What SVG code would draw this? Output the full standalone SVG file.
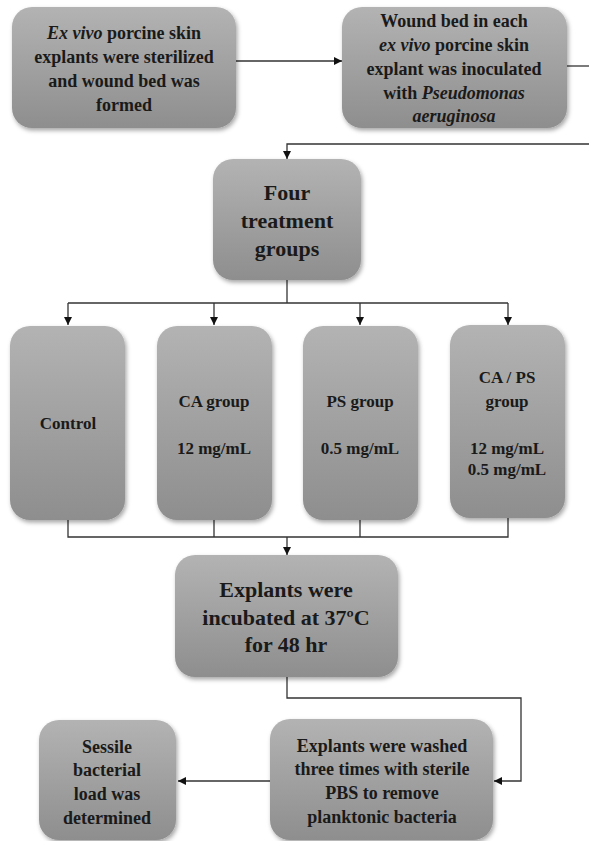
<svg xmlns="http://www.w3.org/2000/svg" width="589" height="841" viewBox="0 0 589 841">
<defs>
<linearGradient id="g" x1="0" y1="0" x2="0" y2="1">
<stop offset="0" stop-color="#b3b3b3"/>
<stop offset="1" stop-color="#8e8e8e"/>
</linearGradient>
<filter id="sh" x="-10%" y="-10%" width="125%" height="125%">
<feDropShadow dx="1.5" dy="2.5" stdDeviation="2" flood-color="#000" flood-opacity="0.35"/>
</filter>
<marker id="ah" viewBox="0 0 10 10" refX="10" refY="5" markerWidth="8" markerHeight="8" markerUnits="userSpaceOnUse" orient="auto">
<path d="M0,0 L10,5 L0,10 Z" fill="#111"/>
</marker>
</defs>
<style>
.box{fill:url(#g);filter:url(#sh);}
.t{font-family:"Liberation Serif","Times New Roman",serif;font-weight:bold;fill:#1a1a1a;text-anchor:middle;}
.s18{font-size:18px;}
.s17{font-size:17px;}
.s22{font-size:22px;}
.i{font-style:italic;}
.c{fill:none;stroke:#333;stroke-width:1.3;}
.a{marker-end:url(#ah);}
</style>
<rect width="589" height="841" fill="#fff"/>
<g id="connectors">
<path class="c a" d="M236,61 H342"/>
<path class="c" d="M567,66 H589"/>
<path class="c a" d="M589,144 H287 V159"/>
<path class="c" d="M287,280 V303"/>
<path class="c" d="M68,303 H508"/>
<path class="c a" d="M68,303 V325"/>
<path class="c a" d="M214,303 V325"/>
<path class="c a" d="M360,303 V325"/>
<path class="c a" d="M508,303 V325"/>
<path class="c" d="M68,520 V537 H508 V518"/>
<path class="c" d="M214,520 V537"/>
<path class="c" d="M360,520 V537"/>
<path class="c a" d="M287,537 V555"/>
<path class="c a" d="M287,677 V698 H521 V781 H494"/>
<path class="c a" d="M270,781 H178"/>
</g>
<g id="n1">
<rect class="box" x="12" y="7" width="224" height="121" rx="20"/>
<text class="t s18" x="124" y="39"><tspan class="i">Ex vivo</tspan> porcine skin</text>
<text class="t s18" x="124" y="63">explants were sterilized</text>
<text class="t s18" x="124" y="87">and wound bed was</text>
<text class="t s18" x="124" y="111">formed</text>
</g>
<g id="n2">
<rect class="box" x="342" y="7" width="225" height="121" rx="20"/>
<text class="t s18" x="454" y="27">Wound bed in each</text>
<text class="t s18" x="454" y="51"><tspan class="i">ex vivo</tspan> porcine skin</text>
<text class="t s18" x="454" y="75">explant was inoculated</text>
<text class="t s18" x="454" y="99">with <tspan class="i">Pseudomonas</tspan></text>
<text class="t s18 i" x="454" y="122">aeruginosa</text>
</g>
<g id="n3">
<rect class="box" x="213" y="159" width="148" height="121" rx="20"/>
<text class="t s22" x="287" y="200">Four</text>
<text class="t s22" x="287" y="228">treatment</text>
<text class="t s22" x="287" y="256">groups</text>
</g>
<g id="n4">
<rect class="box" x="10" y="326" width="115" height="194" rx="20"/>
<text class="t s17" x="68" y="429">Control</text>
</g>
<g id="n5">
<rect class="box" x="157" y="326" width="115" height="194" rx="20"/>
<text class="t s17" x="214" y="407">CA group</text>
<text class="t s17" x="214" y="454">12 mg/mL</text>
</g>
<g id="n6">
<rect class="box" x="303" y="326" width="115" height="194" rx="20"/>
<text class="t s17" x="360" y="407">PS group</text>
<text class="t s17" x="360" y="454">0.5 mg/mL</text>
</g>
<g id="n7">
<rect class="box" x="450" y="325" width="115" height="193" rx="20"/>
<text class="t s17" x="507" y="383">CA / PS</text>
<text class="t s17" x="507" y="407">group</text>
<text class="t s17" x="507" y="454">12 mg/mL</text>
<text class="t s17" x="507" y="475">0.5 mg/mL</text>
</g>
<g id="n8">
<rect class="box" x="175" y="555" width="223" height="122" rx="20"/>
<text class="t s22" x="286" y="597">Explants were</text>
<text class="t s22" x="286" y="625">incubated at 37ºC</text>
<text class="t s22" x="286" y="652">for 48 hr</text>
</g>
<g id="n9">
<rect class="box" x="270" y="719" width="223" height="121" rx="20"/>
<text class="t s18" x="382" y="752">Explants were washed</text>
<text class="t s18" x="382" y="775">three times with sterile</text>
<text class="t s18" x="382" y="799">PBS to remove</text>
<text class="t s18" x="382" y="823">planktonic  bacteria</text>
</g>
<g id="n10">
<rect class="box" x="39" y="720" width="137" height="120" rx="20"/>
<text class="t s18" x="107" y="753">Sessile</text>
<text class="t s18" x="107" y="776">bacterial</text>
<text class="t s18" x="107" y="800">load was</text>
<text class="t s18" x="107" y="824">determined</text>
</g>
</svg>
